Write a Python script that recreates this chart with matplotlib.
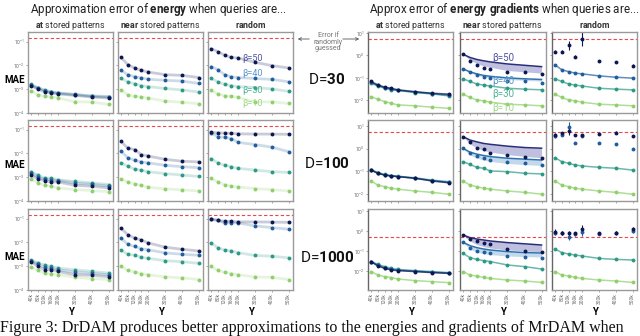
import numpy as np
import matplotlib
matplotlib.use("Agg")
import matplotlib.pyplot as plt

plt.rcParams['font.family'] = ['Roboto', 'DejaVu Sans']
plt.rcParams['mathtext.fontset'] = 'custom'
plt.rcParams['mathtext.rm'] = 'Roboto'
plt.rcParams['mathtext.bf'] = 'Roboto:bold'
plt.rcParams['mathtext.it'] = 'Roboto:italic'

# ---- data (log10 of MAE) ----
Y = [40, 80, 120, 160, 200, 300, 400, 500]
y_labels = ['40k', '80k', '120k', '160k', '200k', '300k', '400k', '500k']
betas = [50, 40, 30, 10]
dims = [30, 100, 1000]

# energy, rows = beta 50, 40, 30, 10
log_e_at_d30 = [[-2.85, -2.99, -3.11, -3.16, -3.20, -3.26, -3.33, -3.37],
                [-2.83, -2.96, -3.06, -3.12, -3.16, -3.22, -3.28, -3.31],
                [-2.80, -2.93, -3.03, -3.12, -3.16, -3.23, -3.30, -3.33],
                [-3.07, -3.23, -3.30, -3.31, -3.37, -3.53, -3.54, -3.64]]
log_e_near_d30 = [[-1.67, -1.97, -2.11, -2.21, -2.28, -2.39, -2.42, -2.51],
                  [-2.21, -2.39, -2.48, -2.52, -2.58, -2.63, -2.66, -2.76],
                  [-2.55, -2.69, -2.78, -2.85, -2.89, -2.97, -3.03, -3.12],
                  [-3.03, -3.23, -3.30, -3.33, -3.37, -3.50, -3.55, -3.61]]
log_e_rand_d30 = [[-1.30, -1.42, -1.57, -1.67, -1.69, -1.87, -2.01, -2.11],
                  [-2.05, -2.18, -2.39, -2.48, -2.51, -2.55, -2.59, -2.69],
                  [-2.55, -2.69, -2.80, -2.85, -2.89, -2.93, -2.99, -3.09],
                  [-3.05, -3.20, -3.27, -3.30, -3.34, -3.54, -3.53, -3.60]]
log_e_at_d100 = [[-2.91, -3.07, -3.15, -3.20, -3.20, -3.34, -3.38, -3.45],
                 [-2.83, -2.98, -3.09, -3.11, -3.14, -3.25, -3.30, -3.37],
                 [-2.77, -2.91, -3.04, -3.04, -3.11, -3.18, -3.24, -3.31],
                 [-3.08, -3.24, -3.34, -3.38, -3.45, -3.52, -3.56, -3.61]]
log_e_near_d100 = [[-1.50, -1.78, -1.84, -2.05, -2.11, -2.25, -2.33, -2.36],
                   [-1.91, -2.18, -2.29, -2.36, -2.40, -2.50, -2.56, -2.60],
                   [-2.40, -2.54, -2.66, -2.71, -2.77, -2.85, -2.91, -2.97],
                   [-3.08, -3.20, -3.29, -3.34, -3.42, -3.49, -3.53, -3.58]]
log_e_rand_d100 = [[-1.11, -1.14, -1.15, -1.16, -1.18, -1.19, -1.19, -1.20],
                   [-1.14, -1.30, -1.33, -1.38, -1.54, -1.63, -1.74, -1.93],
                   [-2.22, -2.40, -2.50, -2.56, -2.63, -2.70, -2.77, -2.80],
                   [-3.05, -3.20, -3.31, -3.38, -3.41, -3.48, -3.52, -3.58]]
log_e_at_d1000 = [[-2.81, -3.01, -3.15, -3.15, -3.22, -3.36, -3.38, -3.44],
                  [-2.77, -2.92, -3.05, -3.08, -3.15, -3.25, -3.30, -3.36],
                  [-2.74, -2.85, -2.95, -3.01, -3.08, -3.15, -3.22, -3.29],
                  [-3.04, -3.18, -3.29, -3.31, -3.36, -3.46, -3.52, -3.56]]
log_e_near_d1000 = [[-1.41, -1.68, -1.82, -1.90, -2.02, -2.20, -2.29, -2.36],
                    [-1.82, -2.09, -2.17, -2.27, -2.31, -2.44, -2.50, -2.54],
                    [-2.33, -2.50, -2.54, -2.63, -2.67, -2.77, -2.81, -2.88],
                    [-3.01, -3.18, -3.24, -3.31, -3.36, -3.45, -3.49, -3.56]]
log_e_rand_d1000 = [[-1.04, -1.07, -1.12, -1.12, -1.14, -1.14, -1.15, -1.16],
                    [-1.01, -1.08, -1.18, -1.18, -1.18, -1.31, -1.38, -1.45],
                    [-2.03, -2.22, -2.33, -2.36, -2.43, -2.55, -2.58, -2.65],
                    [-3.01, -3.18, -3.26, -3.31, -3.36, -3.45, -3.47, -3.56]]
log_e_guess = [-0.85, -0.85, -0.85]

# energy gradients
log_g_at_d30 = [[-1.16, -1.31, -1.41, -1.46, -1.53, -1.61, -1.68, -1.72],
                [-1.20, -1.33, -1.43, -1.50, -1.55, -1.63, -1.70, -1.76],
                [-1.24, -1.36, -1.46, -1.53, -1.56, -1.65, -1.71, -1.80],
                [-1.83, -1.95, -2.05, -2.13, -2.20, -2.24, -2.30, -2.35]]
log_g_near_d30 = [[0.05, -0.27, -0.42, -0.54, -0.61, -0.72, -0.76, -0.84],
                  [-0.60, -0.76, -0.87, -0.94, -1.01, -1.12, -1.12, -1.21],
                  [-1.04, -1.16, -1.27, -1.32, -1.36, -1.46, -1.50, -1.53],
                  [-1.72, -1.87, -1.98, -2.02, -2.08, -2.17, -2.20, -2.24]]
log_g_rand_d30 = [[0.17, 0.17, 0.44, -0.05, 0.75, -0.24, -0.28, -0.45],
                  [-0.42, -0.64, -0.72, -0.79, -0.82, -0.91, -0.97, -1.01],
                  [-1.04, -1.16, -1.27, -1.32, -1.36, -1.46, -1.50, -1.53],
                  [-1.72, -1.87, -1.98, -2.02, -2.08, -2.17, -2.20, -2.24]]
log_g_at_d100 = [[-0.94, -1.08, -1.16, -1.20, -1.23, -1.30, -1.42, -1.50],
                 [-0.94, -1.08, -1.16, -1.20, -1.23, -1.30, -1.40, -1.48],
                 [-0.92, -1.05, -1.13, -1.18, -1.21, -1.28, -1.38, -1.45],
                 [-1.42, -1.60, -1.67, -1.74, -1.78, -1.86, -1.92, -2.00]]
log_g_near_d100 = [[0.53, 0.28, 0.04, -0.03, -0.18, -0.28, -0.35, -0.40],
                   [0.01, -0.20, -0.32, -0.40, -0.50, -0.60, -0.64, -0.72],
                   [-0.57, -0.69, -0.82, -0.86, -0.98, -1.01, -1.08, -1.11],
                   [-1.42, -1.60, -1.67, -1.74, -1.78, -1.86, -1.92, -2.00]]
log_g_rand_d100 = [[0.60, 0.68, 0.79, 0.60, 0.60, 0.65, 0.71, 0.56],
                   [0.56, 0.60, 0.97, 0.26, 0.56, 0.24, 0.19, -0.03],
                   [-0.40, -0.57, -0.64, -0.72, -0.76, -0.82, -0.86, -0.94],
                   [-1.42, -1.60, -1.67, -1.74, -1.78, -1.86, -1.92, -2.00]]
log_g_at_d1000 = [[-1.53, -1.75, -1.87, -1.95, -1.98, -2.03, -2.08, -2.12],
                  [-1.53, -1.72, -1.83, -1.92, -1.96, -2.01, -2.06, -2.10],
                  [-1.53, -1.66, -1.78, -1.87, -1.92, -1.98, -2.03, -2.08],
                  [-2.03, -2.20, -2.28, -2.33, -2.40, -2.48, -2.53, -2.58]]
log_g_near_d1000 = [[-0.20, -0.42, -0.48, -0.62, -0.67, -0.92, -0.98, -1.07],
                    [-0.57, -0.87, -0.98, -1.03, -1.08, -1.25, -1.28, -1.33],
                    [-1.12, -1.33, -1.42, -1.48, -1.53, -1.70, -1.78, -1.90],
                    [-2.03, -2.20, -2.25, -2.32, -2.37, -2.45, -2.50, -2.57]]
log_g_rand_d1000 = [[-0.03, -0.08, -0.12, -0.12, 0.08, -0.12, -0.08, 0.08],
                    [-0.08, -0.12, -0.28, -0.15, -0.05, -0.14, -0.10, 0.02],
                    [-0.90, -1.08, -1.15, -1.20, -1.25, -1.37, -1.42, -1.45],
                    [-2.03, -2.20, -2.25, -2.32, -2.37, -2.45, -2.50, -2.57]]
log_g_guess = [0.73, 0.72, -0.30]

# theory bands for beta=50 / beta=40 in the "near" gradient panels (upper, lower)
band50_hi = [[0.05, -0.09, -0.18, -0.24, -0.29, -0.38, -0.44, -0.50],
             [0.53, 0.38, 0.30, 0.23, 0.19, 0.11, 0.05, 0.02],
             [-0.20, -0.33, -0.40, -0.45, -0.50, -0.58, -0.64, -0.70]]
band50_lo = [[0.05, -0.20, -0.36, -0.47, -0.53, -0.67, -0.73, -0.79],
             [0.53, 0.21, 0.03, -0.08, -0.15, -0.26, -0.34, -0.40],
             [-0.20, -0.50, -0.68, -0.78, -0.85, -0.95, -1.00, -1.04]]
band40_hi = [[-0.60, -0.73, -0.82, -0.89, -0.93, -1.00, -1.04, -1.07],
             [0.01, -0.15, -0.24, -0.30, -0.35, -0.42, -0.46, -0.50],
             [-0.57, -0.73, -0.83, -0.90, -0.95, -1.03, -1.08, -1.10]]
band40_lo = [[-0.60, -0.78, -0.88, -0.95, -1.00, -1.07, -1.11, -1.14],
             [0.01, -0.28, -0.41, -0.50, -0.56, -0.65, -0.70, -0.74],
             [-0.57, -0.90, -1.05, -1.13, -1.18, -1.25, -1.28, -1.30]]

# error bars (decades) for random-query gradients, beta=50 and beta=40
err50_rand = [[0.05, 0.05, 0.22, 0.05, 0.33, 0.05, 0.05, 0.05],
              [0.08, 0.06, 0.18, 0.06, 0.06, 0.06, 0.06, 0.06],
              [0.12, 0.10, 0.12, 0.08, 0.20, 0.06, 0.08, 0.12]]
err40_rand = [[0.03, 0.03, 0.03, 0.03, 0.03, 0.03, 0.03, 0.03],
              [0.08, 0.05, 0.20, 0.05, 0.05, 0.05, 0.05, 0.05],
              [0.12, 0.10, 0.15, 0.08, 0.20, 0.06, 0.08, 0.12]]

colors = ['#0c1650', '#1f5d9c', '#2b9a85', '#8fd06c']
label_colors = ['#4d52a0', '#5794cc', '#4fb394', '#a2d984']
band_colors = ['#aaaad6', '#aecbe6']
guess_color = '#e8484a'

energy = [[log_e_at_d30, log_e_near_d30, log_e_rand_d30],
          [log_e_at_d100, log_e_near_d100, log_e_rand_d100],
          [log_e_at_d1000, log_e_near_d1000, log_e_rand_d1000]]
grads = [[log_g_at_d30, log_g_near_d30, log_g_rand_d30],
         [log_g_at_d100, log_g_near_d100, log_g_rand_d100],
         [log_g_at_d1000, log_g_near_d1000, log_g_rand_d1000]]

W, H = 640, 336
fig = plt.figure(figsize=(6.4, 3.36), dpi=100)


def px_axes(left, top, w, h):
    return fig.add_axes([left / W, 1 - (top + h) / H, w / W, h / H])


def ftext(x, y, s, **kw):
    return fig.text(x / W, 1 - y / H, s, **kw)


row_tops = [32, 120, 209]
row_h = 81
left_cols = [28, 118, 208]
right_cols = [368, 460, 552]
col_w = 85
e_ylim = (10 ** -4.0, 10 ** -0.6)
g_ylims = [(10 ** -2.56, 10 ** 1.04), (10 ** -2.30, 10 ** 1.26), (10 ** -2.95, 10 ** 1.1)]
col_titles = [r'$\mathbf{at}$ stored patterns', r'$\mathbf{near}$ stored patterns', r'$\mathbf{random}$']


def style(ax, ylim, yticks, yticklabels, first_col, last_row):
    ax.set_yscale('log')
    ax.set_xlim(22, 526)
    ax.set_ylim(*ylim)
    ax.minorticks_off()
    ax.set_xticks(Y)
    ax.set_xticklabels(y_labels if last_row else [], rotation=90)
    ax.set_yticks(yticks)
    ax.set_yticklabels(yticklabels if first_col else [])
    ax.tick_params(labelsize=3.5, length=1.5, width=0.4, pad=1, colors='#666666')
    for sp in ax.spines.values():
        sp.set_color('#9a9a9a')
        sp.set_linewidth(1.0)


e_ticks = [1e-1, 1e-2, 1e-3, 1e-4]
e_tlabels = [r'$10^{-1}$', r'$10^{-2}$', r'$10^{-3}$', r'$10^{-4}$']
g_ticks = [10, 1, 0.1, 0.01]
g_tlabels = [r'$10^{1}$', r'$10^{0}$', r'$10^{-1}$', r'$10^{-2}$']

for r in range(3):
    for c in range(3):
        # energy panel
        ax = px_axes(left_cols[c], row_tops[r], col_w, row_h)
        style(ax, e_ylim, e_ticks, e_tlabels, c == 0, r == 2)
        ax.axhline(10 ** log_e_guess[r], color=guess_color, ls=(0, (3, 2)), lw=0.8)
        for k in range(3, -1, -1):
            vals = 10 ** np.array(energy[r][c][k])
            ax.plot(Y, vals, color=colors[k], lw=2.0, alpha=0.22, solid_capstyle='round')
            ax.plot(Y, vals, 'o', color=colors[k], ms=2.8, mew=0)
        if r == 0 and c == 2:
            for k, ypos in enumerate([0.67, 0.49, 0.28, 0.12]):
                ax.text(0.52, ypos, f'β={betas[k]}', transform=ax.transAxes, fontsize=6.5,
                        color=label_colors[k], ha='center', va='center')

        # gradient panel
        ax = px_axes(right_cols[c], row_tops[r], col_w + (1 if c == 1 else 0), row_h)
        style(ax, g_ylims[r], g_ticks, g_tlabels, c == 0, r == 2)
        ax.spines['left'].set_color('#666666')
        ax.axhline(10 ** log_g_guess[r], color=guess_color, ls=(0, (3, 2)), lw=0.8)
        data = grads[r][c]
        if c == 1:
            ax.fill_between(Y, 10 ** np.array(band50_hi[r]), 10 ** np.array(band50_lo[r]),
                            color=band_colors[0], alpha=0.75, lw=0)
            ax.fill_between(Y, 10 ** np.array(band40_hi[r]), 10 ** np.array(band40_lo[r]),
                            color=band_colors[1], alpha=0.75, lw=0)
        for k in range(3, -1, -1):
            vals = 10 ** np.array(data[k])
            if c == 2 and (k == 0 or (k == 1 and r > 0)):
                err = np.array(err50_rand[r] if k == 0 else err40_rand[r])
                lo = vals * (1 - 10 ** -err)
                hi = vals * (10 ** err - 1)
                ax.errorbar(Y, vals, yerr=[lo, hi], fmt='o', color=colors[k], ms=2.8, mew=0,
                            elinewidth=0.8, capsize=0)
                continue
            if c == 1 and k == 0:
                ax.plot(Y, 10 ** np.array(band50_hi[r]), color='#2a2d78', lw=1.1)
            elif c == 1 and k == 1:
                ax.plot(Y, 10 ** np.array(band40_hi[r]), color='#2f73ad', lw=1.1)
            else:
                ax.plot(Y, vals, color=colors[k], lw=1.1, alpha=0.7)
            ax.plot(Y, vals, 'o', color=colors[k], ms=2.8, mew=0)
        if r == 0 and c == 1:
            for k, ypos in enumerate([0.68, 0.40, 0.23, 0.06]):
                ax.text(0.5, ypos, f'β={betas[k]}', transform=ax.transAxes, fontsize=7,
                        color=label_colors[k], ha='center', va='center', clip_on=False)

        if r == 0:
            ftext(left_cols[c] + col_w / 2, 25, col_titles[c], fontsize=6.3,
                  ha='center', va='center', color='#333333')
            ftext(right_cols[c] + col_w / 2, 25, col_titles[c], fontsize=6.3,
                  ha='center', va='center', color='#333333')
        if r == 2:
            ftext(left_cols[c] + col_w / 2, 312, 'Y', fontsize=7, fontweight='bold',
                  ha='center', va='center')
            ftext(right_cols[c] + col_w / 2, 312, 'Y', fontsize=7, fontweight='bold',
                  ha='center', va='center')

# titles and side labels
ftext(158, 10, r'Approximation error of $\mathbf{energy}$ when queries are...',
      fontsize=8.4, ha='center', va='center', color='#222222')
ftext(504, 10, r'Approx error of $\mathbf{energy\ gradients}$ when queries are...',
      fontsize=8.4, ha='center', va='center', color='#222222')
for r, ypos in enumerate([80, 165, 257]):
    ftext(15, ypos, 'MAE', fontsize=7, fontweight='bold', ha='center', va='center')
for r, ypos in enumerate([80, 164, 258]):
    ftext(327, ypos, r'D=$\mathbf{' + str(dims[r]) + '}$', fontsize=11,
          ha='center', va='center', color='#111111')

ftext(328, 42, 'Error if\nrandomly\nguessed', fontsize=5, ha='center', va='center',
      color='#777777', linespacing=0.95)
fig.add_artist(matplotlib.patches.FancyArrowPatch((312 / W, 1 - 39 / H), (295 / W, 1 - 39 / H),
               transform=fig.transFigure, arrowstyle='->', mutation_scale=5, lw=0.6, color='#555555'))
fig.add_artist(matplotlib.patches.FancyArrowPatch((340 / W, 1 - 39 / H), (362 / W, 1 - 39 / H),
               transform=fig.transFigure, arrowstyle='->', mutation_scale=5, lw=0.6, color='#555555'))

ftext(0, 328, 'Figure 3: DrDAM produces better approximations to the energies and gradients of MrDAM when',
      family='Liberation Serif', fontsize=11.5, ha='left', va='center', color='#111111')

fig.savefig('out.png', dpi=100)
